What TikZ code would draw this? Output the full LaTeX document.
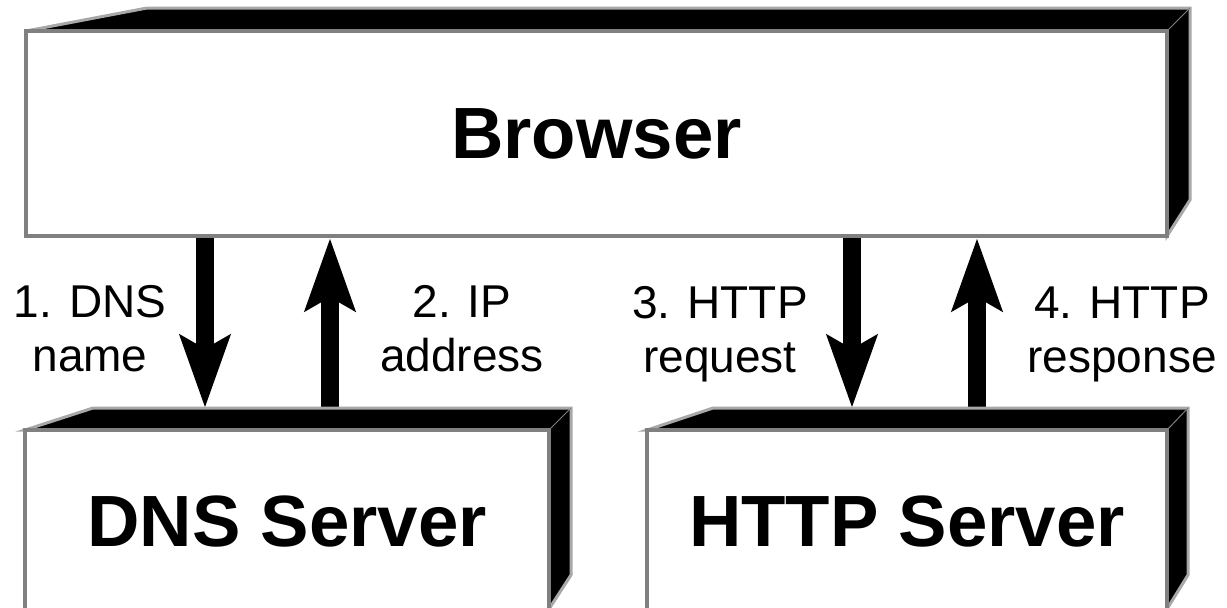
\documentclass[tikz,border=0pt]{standalone}
\usepackage{fontspec}
\setmainfont{Liberation Sans}
\usepackage{tikz}
\usetikzlibrary{arrows.meta}
\usetikzlibrary{backgrounds}
\definecolor{rimgray}{gray}{0.66}
\definecolor{facegray}{gray}{0.5}

\begin{document}
\begin{tikzpicture}[x=0.5pt, y=-0.5pt,
	face/.style={draw=facegray, line width=2pt, fill=white, inner sep=0pt, font=\fontsize{36.3}{40}\selectfont\bfseries},
	slab/.style={fill=black, draw=rimgray, line width=1.5pt},
	flow/.style={line width=9pt, -{Stealth[length=36pt, width=24.5pt, inset=6.5pt]}},
	tag/.style={align=center, font=\fontsize{23}{27}\selectfont}]
\useasboundingbox (0,0) rectangle (1227,607);
\clip (0,0) rectangle (1227,607);
% draw dark sides
	\draw[slab] (26,31) -- (147,8) -- (1190,8) -- (1190,200) -- (1167,236) -- (1167,31) -- cycle;
	\draw[slab] (25,430) -- (93,408) -- (571,408) -- (571,575) -- (549,609) -- (549,430) -- cycle;
	\draw[slab] (647,430) -- (713,408) -- (1188,408) -- (1188,575) -- (1167,609) -- (1167,430) -- cycle;
	\draw[gray, line width=0.5pt] (1167,31) -- (1190,8) (549,430) -- (571,408) (1167,430) -- (1188,408);

% draw boxes
	\node[face, minimum width=570.5pt, minimum height=102.5pt] (browser) at (596.5,133.5) {Browser};
	\node[face, minimum width=262pt, minimum height=91pt] (dns) at (287,521) {DNS Server};
	\node[face, minimum width=260pt, minimum height=91pt] (http) at (907,521) {HTTP Server};

	\coordinate (dnsrim) at (300,408);
	\coordinate (httprim) at (900,408);
	\coordinate (q1) at (205,0);
	\coordinate (q2) at (330,0);
	\coordinate (q3) at (852,0);
	\coordinate (q4) at (977,0);

% draw arrows
\begin{scope}[on background layer]
	\draw[flow] (browser.south -| q1) -- (dnsrim -| q1);
	\draw[flow] (dnsrim -| q2) -- (browser.south -| q2);
	\draw[flow] (browser.south -| q3) -- (httprim -| q3);
	\draw[flow] (httprim -| q4) -- (browser.south -| q4);
\end{scope}

% draw labels
	\node[tag] (l1) at (90,329) {1. DNS\\name};
	\node[tag] (l2) at (462,329) {2. IP\\address};
	\node[tag] (l3) at (720,334) {3. HTTP\\request};
	\node[tag] (l4) at (1122,334) {4. HTTP\\response};
\end{tikzpicture}
\end{document}
